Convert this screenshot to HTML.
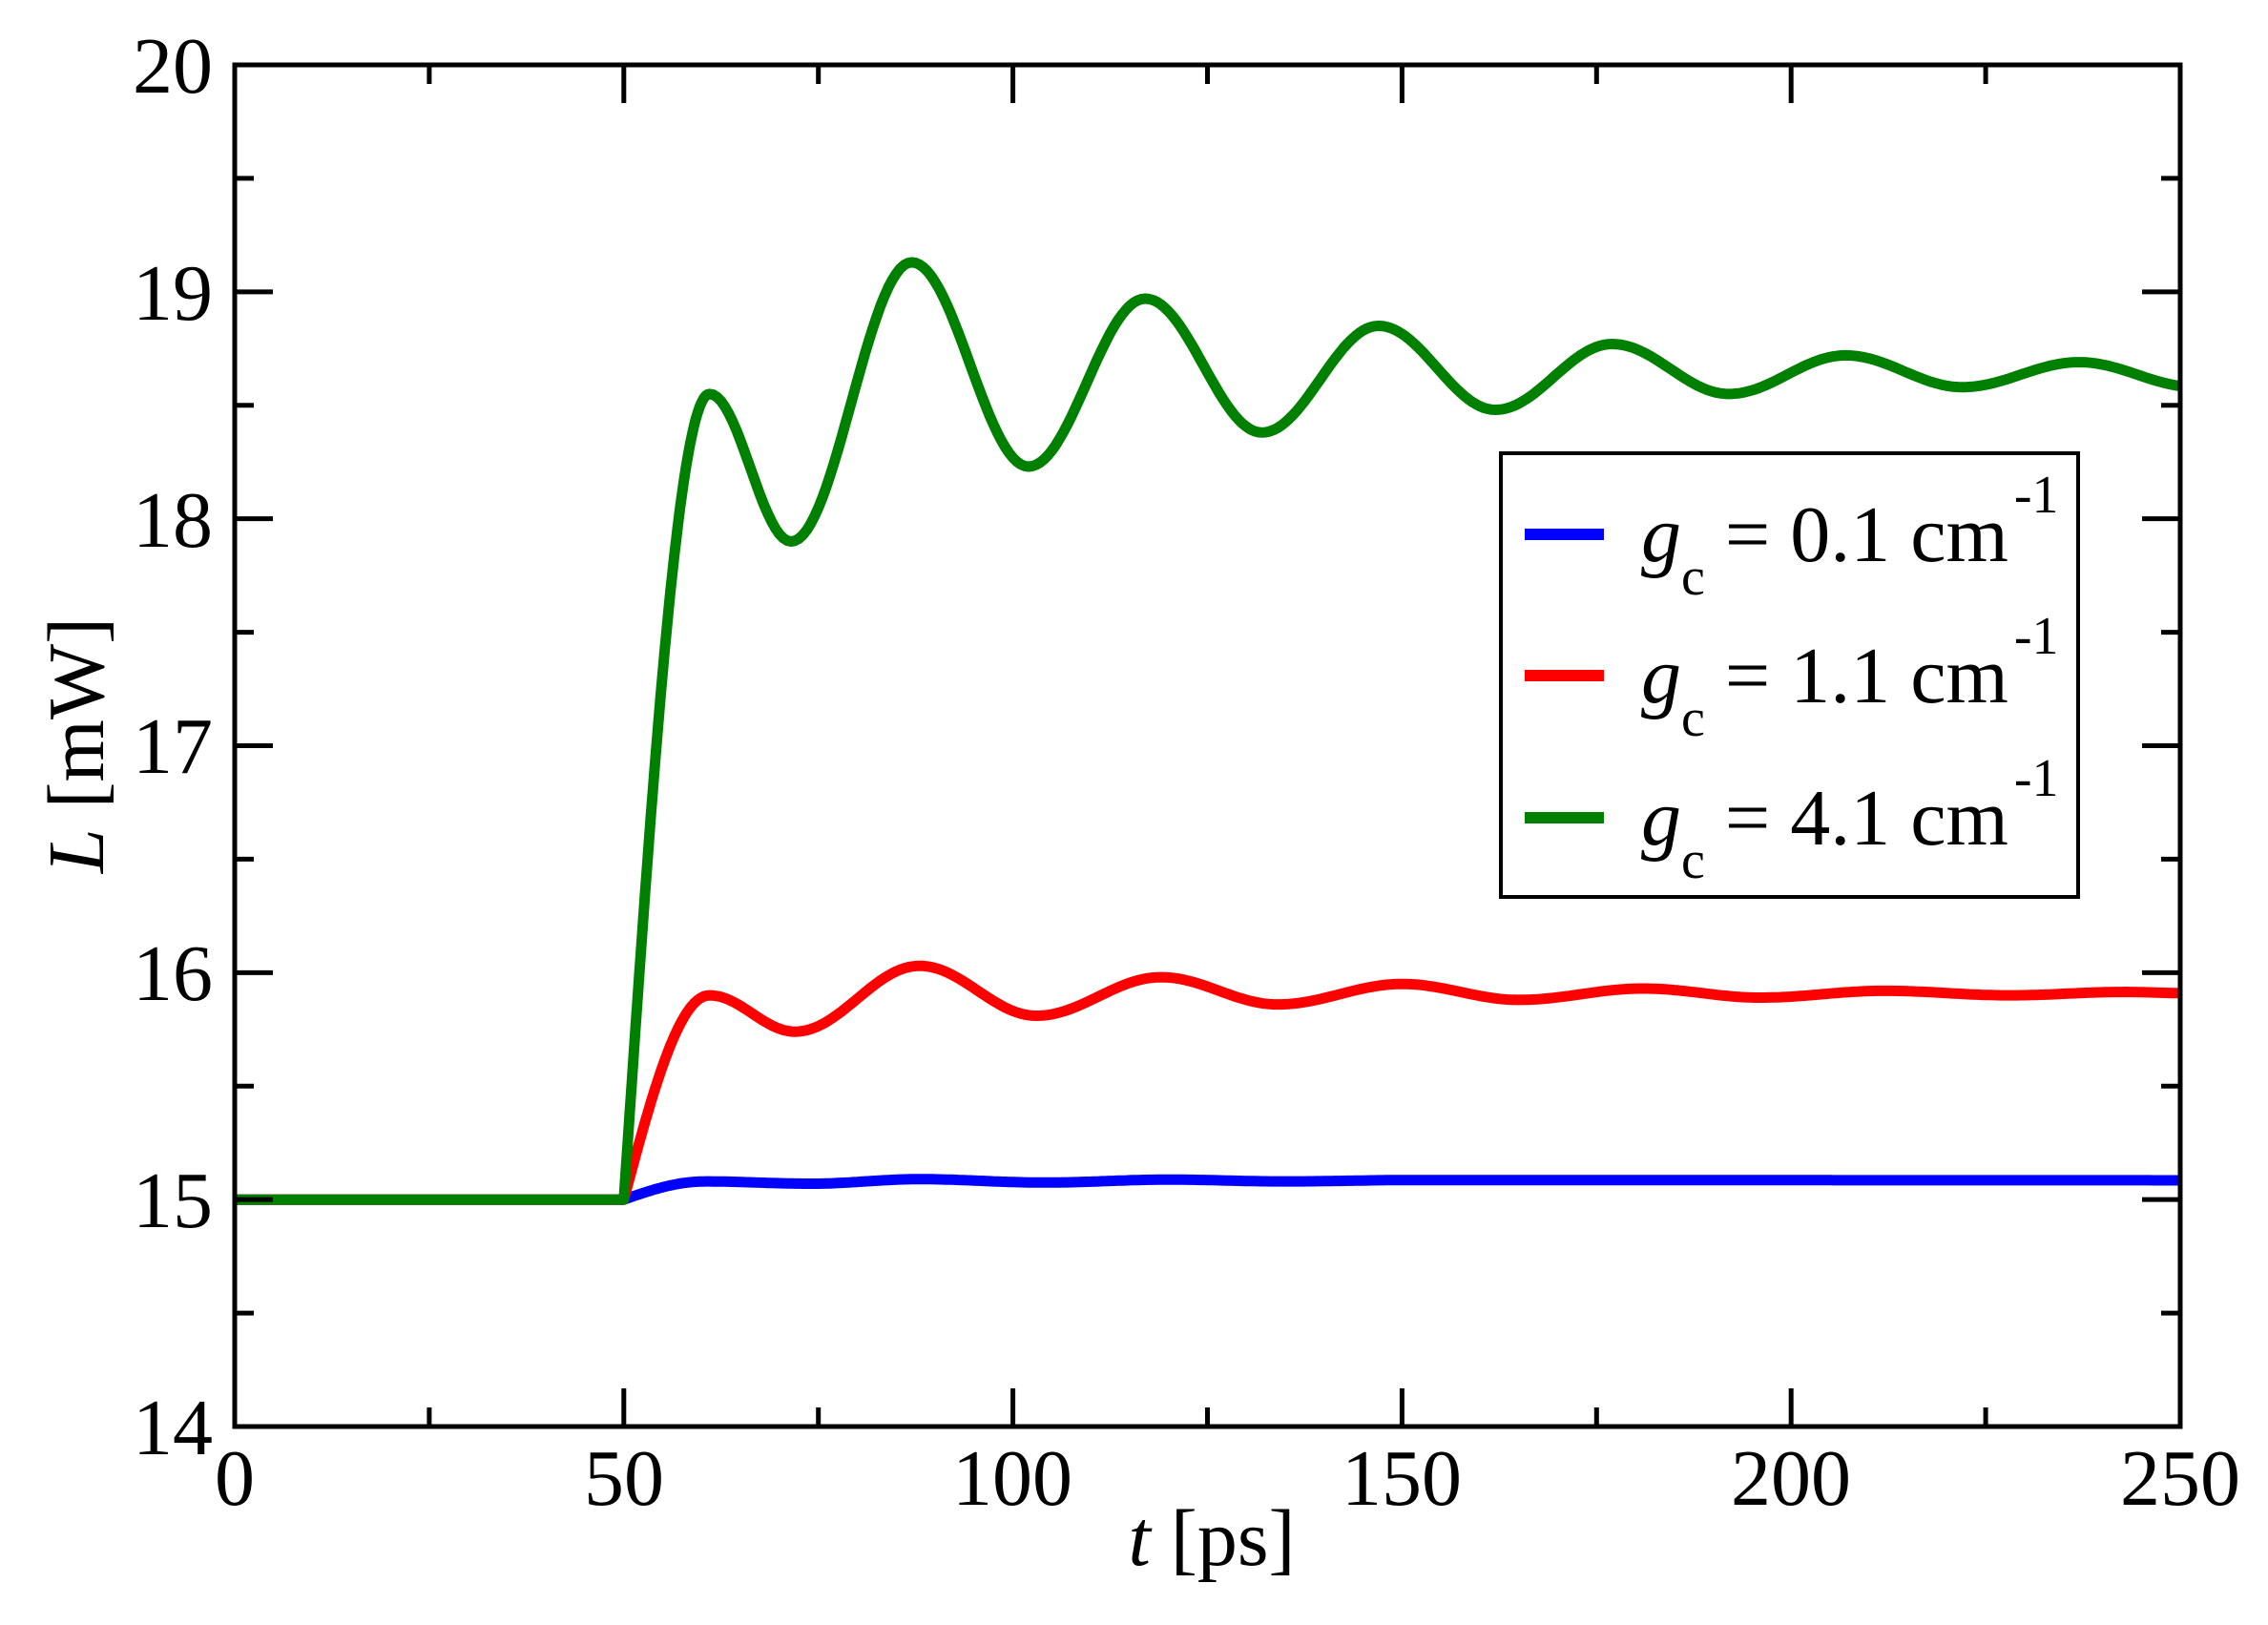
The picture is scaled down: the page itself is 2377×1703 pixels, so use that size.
<!DOCTYPE html>
<html><head><meta charset="utf-8"><style>
html,body{margin:0;padding:0;background:#fff;}
svg{display:block;}
text{font-family:"Liberation Serif",serif;fill:#000;}
</style></head><body>
<svg id="s" width="2377" height="1703" viewBox="0 0 2377 1703" xmlns="http://www.w3.org/2000/svg">
<defs><clipPath id="cp"><rect x="246" y="68" width="2039" height="1427"/></clipPath></defs>
<rect width="2377" height="1703" fill="#fff"/>
<g id="curves" fill="none" stroke-width="11" stroke-linejoin="round" clip-path="url(#cp)"></g>
<rect x="246" y="68" width="2039" height="1427" fill="none" stroke="#000" stroke-width="5"/>
<g id="ticks" stroke="#000" stroke-width="5"></g>
<g font-size="84" text-anchor="end">
<text x="223" y="1524">14</text><text x="223" y="1286">15</text><text x="223" y="1048">16</text>
<text x="223" y="810">17</text><text x="223" y="573">18</text><text x="223" y="335">19</text><text x="223" y="97">20</text>
</g>
<g font-size="84" text-anchor="middle">
<text x="246" y="1577">0</text><text x="654" y="1577">50</text><text x="1061" y="1577">100</text>
<text x="1469" y="1577">150</text><text x="1877" y="1577">200</text><text x="2285" y="1577">250</text>
</g>
<text x="1270" y="1640" font-size="84" text-anchor="middle"><tspan font-style="italic">t</tspan> [ps]</text>
<text transform="translate(108,781) rotate(-90)" font-size="84" text-anchor="middle"><tspan font-style="italic">L</tspan> [mW]</text>
<rect x="1573" y="475" width="605" height="465" fill="#fff" stroke="#000" stroke-width="4"/>
<line x1="1598" y1="560" x2="1681" y2="560" stroke="#0000ff" stroke-width="12"/>
<line x1="1598" y1="708" x2="1681" y2="708" stroke="#ff0000" stroke-width="12"/>
<line x1="1598" y1="857" x2="1681" y2="857" stroke="#008000" stroke-width="12"/>
<g font-size="84">
<text x="1720" y="588"><tspan font-style="italic">g</tspan><tspan font-size="56" dy="35">c</tspan><tspan dy="-35"> = 0.1 cm</tspan><tspan font-size="56" dx="6" dy="-51">-1</tspan></text>
<text x="1720" y="736"><tspan font-style="italic">g</tspan><tspan font-size="56" dy="35">c</tspan><tspan dy="-35"> = 1.1 cm</tspan><tspan font-size="56" dx="6" dy="-51">-1</tspan></text>
<text x="1720" y="885"><tspan font-style="italic">g</tspan><tspan font-size="56" dy="35">c</tspan><tspan dy="-35"> = 4.1 cm</tspan><tspan font-size="56" dx="6" dy="-51">-1</tspan></text>
</g>
</svg>
<script>
var NS="http://www.w3.org/2000/svg";
function X(t){return 246+t*2039/250;}
function Y(v){return 1495-(v-14)*1427/6;}
var tk=document.getElementById('ticks');
function ln(x1,y1,x2,y2){var l=document.createElementNS(NS,'line');l.setAttribute('x1',x1);l.setAttribute('y1',y1);l.setAttribute('x2',x2);l.setAttribute('y2',y2);tk.appendChild(l);}
for(var i=0;i<=10;i++){var x=X(i*25),L=(i%2==0)?40:20;ln(x,1495,x,1495-L);ln(x,68,x,68+L);}
for(var i=0;i<=12;i++){var y=Y(14+i*0.5),L=(i%2==0)?40:20;ln(246,y,246+L,y);ln(2285,y,2285-L,y);}
function curve(ext,rise,color){
  var pts=[];
  for(var t=0;t<=50;t+=5)pts.push([t,15]);
  var p0=ext[0];
  for(var t=50;t<=p0[0];t+=0.25){pts.push([t,15+(p0[1]-15)*Math.sin(Math.PI/2*(t-50)/(p0[0]-50))]);}
  for(var k=0;k<ext.length-1;k++){var a=ext[k],b=ext[k+1];
    for(var t=a[0];t<=b[0];t+=0.5){var f=(1-Math.cos(Math.PI*(t-a[0])/(b[0]-a[0])))/2;pts.push([t,a[1]+(b[1]-a[1])*f]);}}
  var d='M'+pts.map(function(p){return X(p[0]).toFixed(1)+','+Y(p[1]).toFixed(1);}).join(' L');
  var p=document.createElementNS(NS,'path');p.setAttribute('d',d);p.setAttribute('stroke',color);
  document.getElementById('curves').appendChild(p);
}
curve([[60.5,15.08],[74,15.07],[88,15.09],[104,15.075],[120,15.088],[135,15.08],[151,15.086],[250,15.085]],0,'#0000ff');
curve([[61,15.9],[72,15.74],[88,16.03],[103,15.81],[119,15.98],[134,15.86],[150,15.95],[165,15.88],[181,15.93],[196,15.89],[212,15.92],[228,15.9],[243,15.915],[250,15.91]],0,'#ff0000');
curve([[61,18.55],[71.5,17.9],[87,19.13],[102,18.23],[117,18.97],[132,18.38],[147,18.85],[162,18.48],[177,18.77],[192,18.55],[207,18.72],[222,18.58],[237,18.69],[252,18.58]],0,'#008000');
</script>
</body></html>
